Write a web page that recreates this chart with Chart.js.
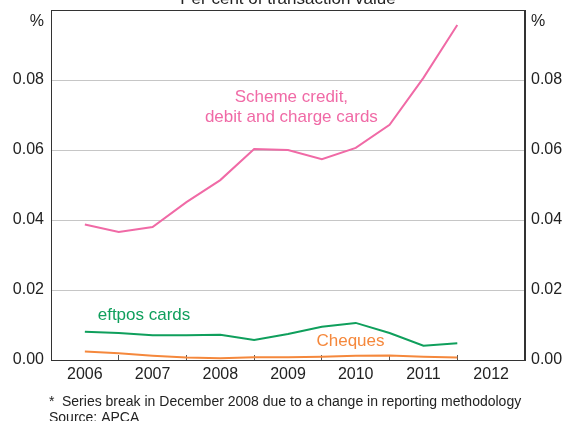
<!DOCTYPE html>
<html>
<head>
<meta charset="utf-8">
<script src="https://cdn.jsdelivr.net/npm/chart.js@4"></script>
<style>
  body { margin: 0; background: #fff; }
  canvas { display: block; }
</style>
</head>
<body>
<canvas id="chart" width="568" height="421"></canvas>
<script>
// half-year observations, June and December of each year
const periods = [2006.5, 2007.0, 2007.5, 2008.0, 2008.5, 2009.0, 2009.5, 2010.0, 2010.5, 2011.0, 2011.5, 2012.0];
const schemeCards = [0.0387, 0.0366, 0.0380, 0.0451, 0.0514, 0.0603, 0.0600, 0.0574, 0.0606, 0.0672, 0.0806, 0.0957];
const eftposCards = [0.0081, 0.0077, 0.0071, 0.0071, 0.0072, 0.0057, 0.0074, 0.0095, 0.0106, 0.0077, 0.0041, 0.0048];
const cheques = [0.0024, 0.0019, 0.0012, 0.0007, 0.0005, 0.0008, 0.0008, 0.0009, 0.0012, 0.0013, 0.0009, 0.0007];
const yTicks = [0, 0.02, 0.04, 0.06, 0.08];

const FONT = '"Liberation Sans", Arial, sans-serif';
const PINK = '#f06aa6';
const GREEN = '#0f9f5c';
const ORANGE = '#f5883c';

const toPoints = (vals) => vals.map((v, i) => ({ x: periods[i], y: v }));

// box, title, % labels, series labels, footnote
const extras = {
  id: 'extras',
  beforeDatasetsDraw(chart) {
    const { ctx, chartArea: a } = chart;
    ctx.save();
    ctx.strokeStyle = '#333';
    ctx.lineWidth = 1;
    ctx.strokeRect(Math.round(a.left) + 0.5, Math.round(a.top) + 0.5, Math.round(a.right - a.left) - 1, Math.round(a.bottom - a.top));
    ctx.restore();
  },
  afterDraw(chart) {
    const { ctx, chartArea: a, scales } = chart;
    const sx = scales.x, sy = scales.y;
    ctx.save();
    ctx.fillStyle = '#222';
    ctx.font = '17px ' + FONT;
    ctx.textAlign = 'center';
    ctx.textBaseline = 'alphabetic';
    ctx.fillText('Per cent of transaction value', 288, 4);

    ctx.font = '16px ' + FONT;
    ctx.textBaseline = 'middle';
    ctx.textAlign = 'right';
    ctx.fillText('%', a.left - 7, a.top + 12);
    ctx.textAlign = 'left';
    ctx.fillText('%', a.right + 6, a.top + 12);

    ctx.font = '17px ' + FONT;
    ctx.fillStyle = PINK;
    ctx.textAlign = 'center';
    ctx.fillText('Scheme credit,', sx.getPixelForValue(2009.55), sy.getPixelForValue(0.0750));
    ctx.fillText('debit and charge cards', sx.getPixelForValue(2009.55), sy.getPixelForValue(0.0693));
    ctx.textAlign = 'left';
    ctx.fillStyle = GREEN;
    ctx.fillText('eftpos cards', sx.getPixelForValue(2006.69), sy.getPixelForValue(0.0129));
    ctx.fillStyle = ORANGE;
    ctx.fillText('Cheques', sx.getPixelForValue(2009.92), sy.getPixelForValue(0.0052));

    ctx.fillStyle = '#222';
    ctx.font = '14px ' + FONT;
    ctx.fillText('*', 49, 402);
    ctx.fillText('Series break in December 2008 due to a change in reporting methodology', 62, 402);
    ctx.fillText('Source: APCA', 49, 418);
    ctx.restore();
  }
};

const line = (data, color) => ({
  data: toPoints(data),
  borderColor: color,
  borderWidth: 2,
  pointRadius: 0,
  tension: 0,
  fill: false
});

const yAxis = (position) => ({
  type: 'linear',
  position,
  min: 0,
  max: 0.1,
  afterBuildTicks: (s) => { s.ticks = yTicks.map(v => ({ value: v })); },
  afterFit: (s) => {
    s.width = position === 'left' ? 51 : 43;
    s.paddingTop = 0;
    s.paddingBottom = 0;
  },
  ticks: {
    color: '#222',
    font: { family: FONT, size: 16 },
    padding: position === 'left' ? 7 : 6,
    callback: (v) => v.toFixed(2)
  },
  grid: {
    display: position === 'left',
    drawTicks: false,
    color: (c) => (c.tick && c.tick.value === 0 ? 'transparent' : '#c6c6c6')
  },
  border: { display: true, color: '#333' }
});

new Chart(document.getElementById('chart'), {
  type: 'line',
  data: {
    datasets: [
      line(schemeCards, PINK),
      line(eftposCards, GREEN),
      line(cheques, ORANGE)
    ]
  },
  options: {
    responsive: false,
    animation: false,
    devicePixelRatio: 1,
    layout: { padding: { top: 10, left: 0, right: 0, bottom: 0 } },
    plugins: { legend: { display: false }, tooltip: { enabled: false }, title: { display: false } },
    scales: {
      x: {
        type: 'linear',
        min: 2006,
        max: 2013,
        afterFit: (s) => {
          s.height = 61;
          s.paddingLeft = 0;
          s.paddingRight = 0;
        },
        ticks: {
          stepSize: 0.5,
          autoSkip: false,
          maxRotation: 0,
          padding: 10,
          color: '#222',
          font: { family: FONT, size: 16 },
          callback: (v) => (Number.isInteger(v) ? '' : String(Math.floor(v)))
        },
        grid: {
          drawOnChartArea: false,
          tickLength: -5,
          tickColor: (c) => (c.tick && Number.isInteger(c.tick.value) && c.tick.value > 2006 && c.tick.value < 2013 ? '#555' : 'transparent')
        },
        border: { display: true, color: '#333' }
      },
      y: yAxis('left'),
      y2: yAxis('right')
    }
  },
  plugins: [extras]
});
</script>
</body>
</html>
